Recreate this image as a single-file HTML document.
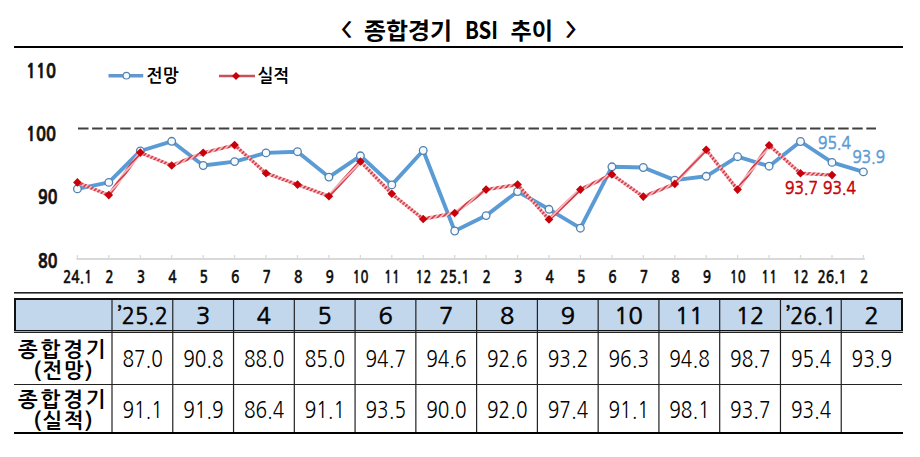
<!DOCTYPE html>
<html lang="ko"><head><meta charset="utf-8"><title>종합경기 BSI 추이</title>
<style>html,body{margin:0;padding:0;background:#fff;width:920px;height:457px;overflow:hidden}svg{display:block}.kr{font-family:"Noto Sans CJK KR","Noto Sans CJK JP",sans-serif;font-weight:700}.nb{font-family:"NanumGothic","Noto Sans CJK KR",sans-serif;font-weight:700}.lb{font-family:"Liberation Sans",Arial,sans-serif;font-weight:700}.ng{font-family:"NanumGothic","Liberation Sans",sans-serif;font-weight:400}.ngb{font-family:"NanumGothic","Liberation Sans",sans-serif;font-weight:700}.lr{font-family:"Liberation Sans",Arial,sans-serif;font-weight:400}</style></head><body>
<svg width="920" height="457" viewBox="0 0 920 457">
<defs><pattern id="hatch" patternUnits="userSpaceOnUse" width="3.4" height="3.4" patternTransform="rotate(45)"><rect width="3.4" height="3.4" fill="#f3bcc0"/><rect width="1.7" height="3.4" fill="#d8404c"/></pattern></defs>
<rect width="920" height="457" fill="#fff"/>
<text transform="translate(328 36) scale(1.3 0.95)" font-family="Noto Sans CJK KR, sans-serif" font-weight="700" font-size="19">〈</text>
<text class="kr" x="364" y="39.2" font-size="23" textLength="88" lengthAdjust="spacingAndGlyphs">종합경기</text>
<text class="kr" x="465" y="39" font-size="24" textLength="33" lengthAdjust="spacingAndGlyphs">BSI</text>
<text class="kr" x="510.5" y="39.2" font-size="23" textLength="42.5" lengthAdjust="spacingAndGlyphs">추이</text>
<text transform="translate(564.7 36) scale(1.3 0.95)" font-family="Noto Sans CJK KR, sans-serif" font-weight="700" font-size="19">〉</text>
<rect x="14" y="46" width="889" height="2" fill="#000"/>
<text class="ngb" x="26" y="77.8" font-size="19" textLength="30" lengthAdjust="spacingAndGlyphs" fill="#111" stroke="#111" stroke-width="0.7">110</text>
<text class="ngb" x="26" y="140.8" font-size="19" textLength="30" lengthAdjust="spacingAndGlyphs" fill="#111" stroke="#111" stroke-width="0.7">100</text>
<text class="ngb" x="38" y="203.5" font-size="19" textLength="19.5" lengthAdjust="spacingAndGlyphs" fill="#111" stroke="#111" stroke-width="0.7">90</text>
<text class="ngb" x="38" y="267.9" font-size="19" textLength="19.5" lengthAdjust="spacingAndGlyphs" fill="#111" stroke="#111" stroke-width="0.7">80</text>
<line x1="108.5" y1="75.7" x2="143.2" y2="75.7" stroke="#6496d0" stroke-width="3.4"/>
<circle cx="126.4" cy="75.7" r="3.3" fill="#f4fbff" stroke="#5a82b0" stroke-width="1.1"/>
<text class="nb" x="146.5" y="81.5" font-size="18" textLength="32" lengthAdjust="spacingAndGlyphs">전망</text>
<line x1="219" y1="76" x2="255" y2="76" stroke="#c8505c" stroke-width="2.6"/>
<path d="M236 72 L240 76 L236 80 L232 76 Z" fill="#c8000a"/>
<text class="nb" x="257.5" y="81.5" font-size="18" textLength="31.5" lengthAdjust="spacingAndGlyphs">실적</text>
<line x1="78" y1="128.6" x2="876" y2="128.6" stroke="#404040" stroke-width="2" stroke-dasharray="10.5 3.577"/>
<line x1="76.5" y1="259" x2="864.8" y2="259" stroke="#d9d9d9" stroke-width="2"/>
<path d="M77.4 259V255 M108.8 259V255 M140.3 259V255 M171.7 259V255 M203.2 259V255 M234.6 259V255 M266.0 259V255 M297.5 259V255 M328.9 259V255 M360.4 259V255 M391.8 259V255 M423.2 259V255 M454.7 259V255 M486.1 259V255 M517.6 259V255 M549.0 259V255 M580.4 259V255 M611.9 259V255 M643.3 259V255 M674.8 259V255 M706.2 259V255 M737.6 259V255 M769.1 259V255 M800.5 259V255 M832.0 259V255 M863.4 259V255 " stroke="#d9d9d9" stroke-width="1.3" fill="none"/>
<text class="ngb" x="62.9" y="282.8" font-size="17.3" textLength="29.5" lengthAdjust="spacingAndGlyphs" fill="#111" stroke="#111" stroke-width="0.3">24.1</text>
<text class="ngb" x="105.3" y="282.8" font-size="17.3" textLength="8.5" lengthAdjust="spacingAndGlyphs" fill="#111" stroke="#111" stroke-width="0.3">2</text>
<text class="ngb" x="136.7" y="282.8" font-size="17.3" textLength="8.5" lengthAdjust="spacingAndGlyphs" fill="#111" stroke="#111" stroke-width="0.3">3</text>
<text class="ngb" x="168.2" y="282.8" font-size="17.3" textLength="8.5" lengthAdjust="spacingAndGlyphs" fill="#111" stroke="#111" stroke-width="0.3">4</text>
<text class="ngb" x="199.6" y="282.8" font-size="17.3" textLength="8.5" lengthAdjust="spacingAndGlyphs" fill="#111" stroke="#111" stroke-width="0.3">5</text>
<text class="ngb" x="231.1" y="282.8" font-size="17.3" textLength="8.5" lengthAdjust="spacingAndGlyphs" fill="#111" stroke="#111" stroke-width="0.3">6</text>
<text class="ngb" x="262.5" y="282.8" font-size="17.3" textLength="8.5" lengthAdjust="spacingAndGlyphs" fill="#111" stroke="#111" stroke-width="0.3">7</text>
<text class="ngb" x="293.9" y="282.8" font-size="17.3" textLength="8.5" lengthAdjust="spacingAndGlyphs" fill="#111" stroke="#111" stroke-width="0.3">8</text>
<text class="ngb" x="325.4" y="282.8" font-size="17.3" textLength="8.5" lengthAdjust="spacingAndGlyphs" fill="#111" stroke="#111" stroke-width="0.3">9</text>
<text class="ngb" x="352.6" y="282.8" font-size="17.3" textLength="16" lengthAdjust="spacingAndGlyphs" fill="#111" stroke="#111" stroke-width="0.3">10</text>
<text class="ngb" x="384.0" y="282.8" font-size="17.3" textLength="16" lengthAdjust="spacingAndGlyphs" fill="#111" stroke="#111" stroke-width="0.3">11</text>
<text class="ngb" x="415.4" y="282.8" font-size="17.3" textLength="16" lengthAdjust="spacingAndGlyphs" fill="#111" stroke="#111" stroke-width="0.3">12</text>
<text class="ngb" x="440.1" y="282.8" font-size="17.3" textLength="29.5" lengthAdjust="spacingAndGlyphs" fill="#111" stroke="#111" stroke-width="0.3">25.1</text>
<text class="ngb" x="482.6" y="282.8" font-size="17.3" textLength="8.5" lengthAdjust="spacingAndGlyphs" fill="#111" stroke="#111" stroke-width="0.3">2</text>
<text class="ngb" x="514.0" y="282.8" font-size="17.3" textLength="8.5" lengthAdjust="spacingAndGlyphs" fill="#111" stroke="#111" stroke-width="0.3">3</text>
<text class="ngb" x="545.5" y="282.8" font-size="17.3" textLength="8.5" lengthAdjust="spacingAndGlyphs" fill="#111" stroke="#111" stroke-width="0.3">4</text>
<text class="ngb" x="576.9" y="282.8" font-size="17.3" textLength="8.5" lengthAdjust="spacingAndGlyphs" fill="#111" stroke="#111" stroke-width="0.3">5</text>
<text class="ngb" x="608.3" y="282.8" font-size="17.3" textLength="8.5" lengthAdjust="spacingAndGlyphs" fill="#111" stroke="#111" stroke-width="0.3">6</text>
<text class="ngb" x="639.8" y="282.8" font-size="17.3" textLength="8.5" lengthAdjust="spacingAndGlyphs" fill="#111" stroke="#111" stroke-width="0.3">7</text>
<text class="ngb" x="671.2" y="282.8" font-size="17.3" textLength="8.5" lengthAdjust="spacingAndGlyphs" fill="#111" stroke="#111" stroke-width="0.3">8</text>
<text class="ngb" x="702.7" y="282.8" font-size="17.3" textLength="8.5" lengthAdjust="spacingAndGlyphs" fill="#111" stroke="#111" stroke-width="0.3">9</text>
<text class="ngb" x="729.8" y="282.8" font-size="17.3" textLength="16" lengthAdjust="spacingAndGlyphs" fill="#111" stroke="#111" stroke-width="0.3">10</text>
<text class="ngb" x="761.3" y="282.8" font-size="17.3" textLength="16" lengthAdjust="spacingAndGlyphs" fill="#111" stroke="#111" stroke-width="0.3">11</text>
<text class="ngb" x="792.7" y="282.8" font-size="17.3" textLength="16" lengthAdjust="spacingAndGlyphs" fill="#111" stroke="#111" stroke-width="0.3">12</text>
<text class="ngb" x="817.4" y="282.8" font-size="17.3" textLength="29.5" lengthAdjust="spacingAndGlyphs" fill="#111" stroke="#111" stroke-width="0.3">26.1</text>
<text class="ngb" x="859.9" y="282.8" font-size="17.3" textLength="8.5" lengthAdjust="spacingAndGlyphs" fill="#111" stroke="#111" stroke-width="0.3">2</text>
<polyline points="77.4,188.9 108.8,182.4 140.3,151.0 171.7,141.3 203.2,165.5 234.6,161.6 266.0,152.9 297.5,151.7 328.9,177.1 360.4,155.8 391.8,184.9 423.2,150.5 454.7,231.0 486.1,215.6 517.6,191.5 549.0,209.3 580.4,228.2 611.9,166.8 643.3,167.5 674.8,180.1 706.2,176.3 737.6,156.7 769.1,166.2 800.5,141.5 832.0,162.4 863.4,171.9" fill="none" stroke="#5b9bd5" stroke-width="3.9" stroke-linejoin="round"/>
<circle cx="77.4" cy="188.9" r="3.8" fill="#f4fbff" stroke="#5580ad" stroke-width="1.3"/>
<circle cx="108.8" cy="182.4" r="3.8" fill="#f4fbff" stroke="#5580ad" stroke-width="1.3"/>
<circle cx="140.3" cy="151.0" r="3.8" fill="#f4fbff" stroke="#5580ad" stroke-width="1.3"/>
<circle cx="171.7" cy="141.3" r="3.8" fill="#f4fbff" stroke="#5580ad" stroke-width="1.3"/>
<circle cx="203.2" cy="165.5" r="3.8" fill="#f4fbff" stroke="#5580ad" stroke-width="1.3"/>
<circle cx="234.6" cy="161.6" r="3.8" fill="#f4fbff" stroke="#5580ad" stroke-width="1.3"/>
<circle cx="266.0" cy="152.9" r="3.8" fill="#f4fbff" stroke="#5580ad" stroke-width="1.3"/>
<circle cx="297.5" cy="151.7" r="3.8" fill="#f4fbff" stroke="#5580ad" stroke-width="1.3"/>
<circle cx="328.9" cy="177.1" r="3.8" fill="#f4fbff" stroke="#5580ad" stroke-width="1.3"/>
<circle cx="360.4" cy="155.8" r="3.8" fill="#f4fbff" stroke="#5580ad" stroke-width="1.3"/>
<circle cx="391.8" cy="184.9" r="3.8" fill="#f4fbff" stroke="#5580ad" stroke-width="1.3"/>
<circle cx="423.2" cy="150.5" r="3.8" fill="#f4fbff" stroke="#5580ad" stroke-width="1.3"/>
<circle cx="454.7" cy="231.0" r="3.8" fill="#f4fbff" stroke="#5580ad" stroke-width="1.3"/>
<circle cx="486.1" cy="215.6" r="3.8" fill="#f4fbff" stroke="#5580ad" stroke-width="1.3"/>
<circle cx="517.6" cy="191.5" r="3.8" fill="#f4fbff" stroke="#5580ad" stroke-width="1.3"/>
<circle cx="549.0" cy="209.3" r="3.8" fill="#f4fbff" stroke="#5580ad" stroke-width="1.3"/>
<circle cx="580.4" cy="228.2" r="3.8" fill="#f4fbff" stroke="#5580ad" stroke-width="1.3"/>
<circle cx="611.9" cy="166.8" r="3.8" fill="#f4fbff" stroke="#5580ad" stroke-width="1.3"/>
<circle cx="643.3" cy="167.5" r="3.8" fill="#f4fbff" stroke="#5580ad" stroke-width="1.3"/>
<circle cx="674.8" cy="180.1" r="3.8" fill="#f4fbff" stroke="#5580ad" stroke-width="1.3"/>
<circle cx="706.2" cy="176.3" r="3.8" fill="#f4fbff" stroke="#5580ad" stroke-width="1.3"/>
<circle cx="737.6" cy="156.7" r="3.8" fill="#f4fbff" stroke="#5580ad" stroke-width="1.3"/>
<circle cx="769.1" cy="166.2" r="3.8" fill="#f4fbff" stroke="#5580ad" stroke-width="1.3"/>
<circle cx="800.5" cy="141.5" r="3.8" fill="#f4fbff" stroke="#5580ad" stroke-width="1.3"/>
<circle cx="832.0" cy="162.4" r="3.8" fill="#f4fbff" stroke="#5580ad" stroke-width="1.3"/>
<circle cx="863.4" cy="171.9" r="3.8" fill="#f4fbff" stroke="#5580ad" stroke-width="1.3"/>
<polyline points="77.4,182.4 108.8,195.1 140.3,152.6 171.7,165.5 203.2,152.8 234.6,145.1 266.0,173.2 297.5,184.6 328.9,196.2 360.4,161.5 391.8,193.8 423.2,219.0 454.7,213.0 486.1,189.6 517.6,184.6 549.0,219.4 580.4,189.6 611.9,174.4 643.3,196.6 674.8,183.9 706.2,149.8 737.6,189.6 769.1,145.3 800.5,173.2 832.0,175.1" fill="none" stroke="url(#hatch)" stroke-width="3.4" stroke-linejoin="round"/>
<path d="M77.4 178.1L81.7 182.4L77.4 186.7L73.1 182.4Z" fill="#c8000a"/>
<path d="M108.8 190.8L113.1 195.1L108.8 199.4L104.5 195.1Z" fill="#c8000a"/>
<path d="M140.3 148.3L144.6 152.6L140.3 156.9L136.0 152.6Z" fill="#c8000a"/>
<path d="M171.7 161.2L176.0 165.5L171.7 169.8L167.4 165.5Z" fill="#c8000a"/>
<path d="M203.2 148.5L207.5 152.8L203.2 157.1L198.9 152.8Z" fill="#c8000a"/>
<path d="M234.6 140.8L238.9 145.1L234.6 149.4L230.3 145.1Z" fill="#c8000a"/>
<path d="M266.0 168.9L270.3 173.2L266.0 177.5L261.7 173.2Z" fill="#c8000a"/>
<path d="M297.5 180.3L301.8 184.6L297.5 188.9L293.2 184.6Z" fill="#c8000a"/>
<path d="M328.9 191.9L333.2 196.2L328.9 200.5L324.6 196.2Z" fill="#c8000a"/>
<path d="M360.4 157.2L364.7 161.5L360.4 165.8L356.1 161.5Z" fill="#c8000a"/>
<path d="M391.8 189.5L396.1 193.8L391.8 198.1L387.5 193.8Z" fill="#c8000a"/>
<path d="M423.2 214.7L427.5 219.0L423.2 223.3L418.9 219.0Z" fill="#c8000a"/>
<path d="M454.7 208.7L459.0 213.0L454.7 217.3L450.4 213.0Z" fill="#c8000a"/>
<path d="M486.1 185.3L490.4 189.6L486.1 193.9L481.8 189.6Z" fill="#c8000a"/>
<path d="M517.6 180.3L521.9 184.6L517.6 188.9L513.3 184.6Z" fill="#c8000a"/>
<path d="M549.0 215.1L553.3 219.4L549.0 223.7L544.7 219.4Z" fill="#c8000a"/>
<path d="M580.4 185.3L584.7 189.6L580.4 193.9L576.1 189.6Z" fill="#c8000a"/>
<path d="M611.9 170.1L616.2 174.4L611.9 178.7L607.6 174.4Z" fill="#c8000a"/>
<path d="M643.3 192.3L647.6 196.6L643.3 200.9L639.0 196.6Z" fill="#c8000a"/>
<path d="M674.8 179.6L679.1 183.9L674.8 188.2L670.5 183.9Z" fill="#c8000a"/>
<path d="M706.2 145.5L710.5 149.8L706.2 154.1L701.9 149.8Z" fill="#c8000a"/>
<path d="M737.6 185.3L741.9 189.6L737.6 193.9L733.3 189.6Z" fill="#c8000a"/>
<path d="M769.1 141.0L773.4 145.3L769.1 149.6L764.8 145.3Z" fill="#c8000a"/>
<path d="M800.5 168.9L804.8 173.2L800.5 177.5L796.2 173.2Z" fill="#c8000a"/>
<path d="M832.0 170.8L836.3 175.1L832.0 179.4L827.7 175.1Z" fill="#c8000a"/>
<text class="ng" x="818" y="148.6" font-size="17.5" textLength="33" lengthAdjust="spacingAndGlyphs" fill="#5b9bd5" stroke="#5b9bd5" stroke-width="0.6">95.4</text>
<text class="ng" x="852.5" y="163.2" font-size="17.5" textLength="32.5" lengthAdjust="spacingAndGlyphs" fill="#5b9bd5" stroke="#5b9bd5" stroke-width="0.6">93.9</text>
<text class="ng" x="785" y="194.1" font-size="17.5" textLength="33" lengthAdjust="spacingAndGlyphs" fill="#c8000a" stroke="#c8000a" stroke-width="0.6">93.7</text>
<text class="ng" x="823" y="194.1" font-size="17.5" textLength="33" lengthAdjust="spacingAndGlyphs" fill="#c8000a" stroke="#c8000a" stroke-width="0.6">93.4</text>
<rect x="14" y="292" width="889" height="1.6" fill="#222"/>
<rect x="15" y="299" width="887" height="32" fill="#c2d6ec"/>
<rect x="14" y="298" width="889" height="2" fill="#111"/>
<rect x="14" y="298" width="2" height="35" fill="#111"/>
<rect x="901" y="298" width="2" height="35" fill="#111"/>
<rect x="14" y="330" width="889" height="1" fill="#111"/>
<rect x="14" y="331" width="889" height="1" fill="#aaa"/>
<rect x="14" y="332" width="889" height="1" fill="#222"/>
<rect x="14" y="384" width="888" height="1" fill="#222"/>
<rect x="14" y="432" width="889" height="2" fill="#000"/>
<line x1="112.00" y1="300" x2="112.00" y2="432" stroke="#222" stroke-width="1.2"/>
<line x1="172.77" y1="300" x2="172.77" y2="432" stroke="#222" stroke-width="1.2"/>
<line x1="233.54" y1="300" x2="233.54" y2="432" stroke="#222" stroke-width="1.2"/>
<line x1="294.31" y1="300" x2="294.31" y2="432" stroke="#222" stroke-width="1.2"/>
<line x1="355.08" y1="300" x2="355.08" y2="432" stroke="#222" stroke-width="1.2"/>
<line x1="415.85" y1="300" x2="415.85" y2="432" stroke="#222" stroke-width="1.2"/>
<line x1="476.62" y1="300" x2="476.62" y2="432" stroke="#222" stroke-width="1.2"/>
<line x1="537.39" y1="300" x2="537.39" y2="432" stroke="#222" stroke-width="1.2"/>
<line x1="598.16" y1="300" x2="598.16" y2="432" stroke="#222" stroke-width="1.2"/>
<line x1="658.93" y1="300" x2="658.93" y2="432" stroke="#222" stroke-width="1.2"/>
<line x1="719.70" y1="300" x2="719.70" y2="432" stroke="#222" stroke-width="1.2"/>
<line x1="780.47" y1="300" x2="780.47" y2="432" stroke="#222" stroke-width="1.2"/>
<line x1="841.24" y1="300" x2="841.24" y2="432" stroke="#222" stroke-width="1.2"/>
<text class="ng" x="117.8" y="324.2" font-size="23.5" textLength="50" lengthAdjust="spacingAndGlyphs" stroke="#000" stroke-width="0.65">’25.2</text>
<text class="ng" x="203.2" y="324.2" font-size="23.5" text-anchor="middle" stroke="#000" stroke-width="0.65">3</text>
<text class="ng" x="263.9" y="324.2" font-size="23.5" text-anchor="middle" stroke="#000" stroke-width="0.65">4</text>
<text class="ng" x="324.7" y="324.2" font-size="23.5" text-anchor="middle" stroke="#000" stroke-width="0.65">5</text>
<text class="ng" x="385.5" y="324.2" font-size="23.5" text-anchor="middle" stroke="#000" stroke-width="0.65">6</text>
<text class="ng" x="446.2" y="324.2" font-size="23.5" text-anchor="middle" stroke="#000" stroke-width="0.65">7</text>
<text class="ng" x="507.0" y="324.2" font-size="23.5" text-anchor="middle" stroke="#000" stroke-width="0.65">8</text>
<text class="ng" x="567.8" y="324.2" font-size="23.5" text-anchor="middle" stroke="#000" stroke-width="0.65">9</text>
<text class="ng" x="628.5" y="324.2" font-size="23.5" text-anchor="middle" stroke="#000" stroke-width="0.65">10</text>
<text class="ng" x="689.3" y="324.2" font-size="23.5" text-anchor="middle" stroke="#000" stroke-width="0.65">11</text>
<text class="ng" x="750.1" y="324.2" font-size="23.5" text-anchor="middle" stroke="#000" stroke-width="0.65">12</text>
<text class="ng" x="786.3" y="324.2" font-size="23.5" textLength="50" lengthAdjust="spacingAndGlyphs" stroke="#000" stroke-width="0.65">’26.1</text>
<text class="ng" x="871.6" y="324.2" font-size="23.5" text-anchor="middle" stroke="#000" stroke-width="0.65">2</text>
<text class="ng" x="122.4" y="367.2" font-size="23" textLength="40.5" lengthAdjust="spacingAndGlyphs" fill="#000">87.0</text>
<text class="ng" x="183.2" y="367.2" font-size="23" textLength="40.5" lengthAdjust="spacingAndGlyphs" fill="#000">90.8</text>
<text class="ng" x="243.9" y="367.2" font-size="23" textLength="40.5" lengthAdjust="spacingAndGlyphs" fill="#000">88.0</text>
<text class="ng" x="304.7" y="367.2" font-size="23" textLength="40.5" lengthAdjust="spacingAndGlyphs" fill="#000">85.0</text>
<text class="ng" x="365.5" y="367.2" font-size="23" textLength="40.5" lengthAdjust="spacingAndGlyphs" fill="#000">94.7</text>
<text class="ng" x="426.2" y="367.2" font-size="23" textLength="40.5" lengthAdjust="spacingAndGlyphs" fill="#000">94.6</text>
<text class="ng" x="487.0" y="367.2" font-size="23" textLength="40.5" lengthAdjust="spacingAndGlyphs" fill="#000">92.6</text>
<text class="ng" x="547.8" y="367.2" font-size="23" textLength="40.5" lengthAdjust="spacingAndGlyphs" fill="#000">93.2</text>
<text class="ng" x="608.5" y="367.2" font-size="23" textLength="40.5" lengthAdjust="spacingAndGlyphs" fill="#000">96.3</text>
<text class="ng" x="669.3" y="367.2" font-size="23" textLength="40.5" lengthAdjust="spacingAndGlyphs" fill="#000">94.8</text>
<text class="ng" x="730.1" y="367.2" font-size="23" textLength="40.5" lengthAdjust="spacingAndGlyphs" fill="#000">98.7</text>
<text class="ng" x="790.9" y="367.2" font-size="23" textLength="40.5" lengthAdjust="spacingAndGlyphs" fill="#000">95.4</text>
<text class="ng" x="851.6" y="367.2" font-size="23" textLength="40.5" lengthAdjust="spacingAndGlyphs" fill="#000">93.9</text>
<text class="ng" x="122.4" y="418" font-size="23" textLength="40.5" lengthAdjust="spacingAndGlyphs" fill="#000">91.1</text>
<text class="ng" x="183.2" y="418" font-size="23" textLength="40.5" lengthAdjust="spacingAndGlyphs" fill="#000">91.9</text>
<text class="ng" x="243.9" y="418" font-size="23" textLength="40.5" lengthAdjust="spacingAndGlyphs" fill="#000">86.4</text>
<text class="ng" x="304.7" y="418" font-size="23" textLength="40.5" lengthAdjust="spacingAndGlyphs" fill="#000">91.1</text>
<text class="ng" x="365.5" y="418" font-size="23" textLength="40.5" lengthAdjust="spacingAndGlyphs" fill="#000">93.5</text>
<text class="ng" x="426.2" y="418" font-size="23" textLength="40.5" lengthAdjust="spacingAndGlyphs" fill="#000">90.0</text>
<text class="ng" x="487.0" y="418" font-size="23" textLength="40.5" lengthAdjust="spacingAndGlyphs" fill="#000">92.0</text>
<text class="ng" x="547.8" y="418" font-size="23" textLength="40.5" lengthAdjust="spacingAndGlyphs" fill="#000">97.4</text>
<text class="ng" x="608.5" y="418" font-size="23" textLength="40.5" lengthAdjust="spacingAndGlyphs" fill="#000">91.1</text>
<text class="ng" x="669.3" y="418" font-size="23" textLength="40.5" lengthAdjust="spacingAndGlyphs" fill="#000">98.1</text>
<text class="ng" x="730.1" y="418" font-size="23" textLength="40.5" lengthAdjust="spacingAndGlyphs" fill="#000">93.7</text>
<text class="ng" x="790.9" y="418" font-size="23" textLength="40.5" lengthAdjust="spacingAndGlyphs" fill="#000">93.4</text>
<text class="nb" x="18" y="356.8" font-size="21" textLength="87.5" lengthAdjust="spacing">종합경기</text>
<text class="nb" x="33.5" y="378.3" font-size="21" textLength="59" lengthAdjust="spacing">(전망)</text>
<text class="nb" x="18" y="406.8" font-size="21" textLength="87.5" lengthAdjust="spacing">종합경기</text>
<text class="nb" x="33.5" y="428.3" font-size="21" textLength="59" lengthAdjust="spacing">(실적)</text>
</svg></body></html>
